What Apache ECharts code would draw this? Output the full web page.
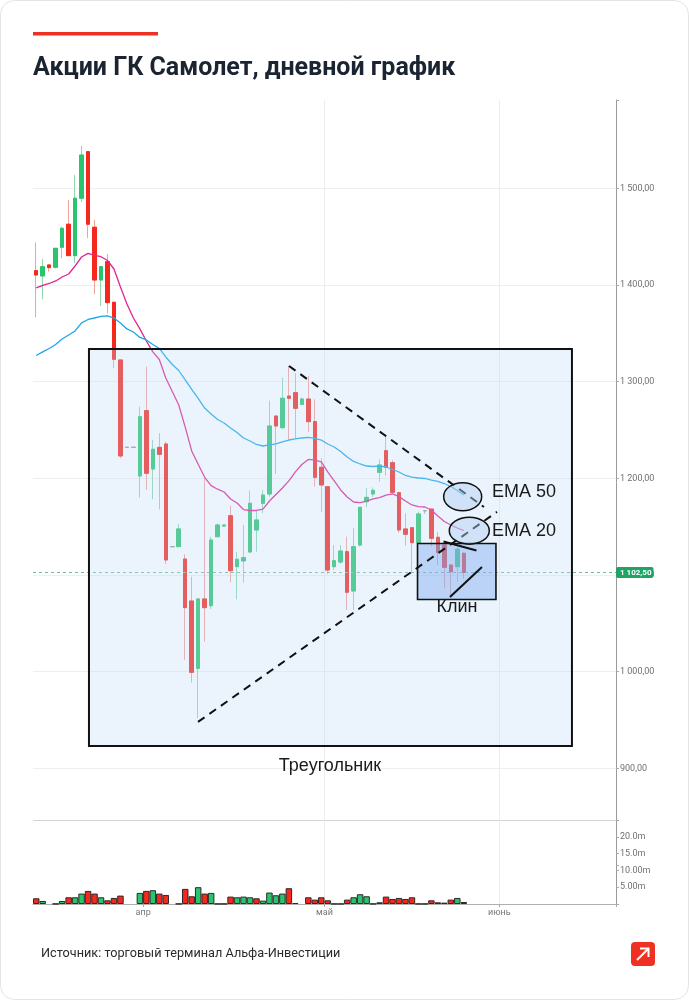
<!DOCTYPE html>
<html><head><meta charset="utf-8">
<script src="https://cdn.jsdelivr.net/npm/echarts@6/dist/echarts.min.js"></script>
<style>html,body{margin:0;padding:0;background:#fff}#c{width:689px;height:1000px}</style>
</head><body><div id="c"></div>
<script>
// ---- slots (daily sessions) and month ticks ----
const slotCount = 90;
const categories = Array.from({length: slotCount}, (_, i) => 'd' + i);
const monthTicks = {17: 'апр', 45: 'май', 72: 'июнь'};

// ---- daily candles ----
const open  = [1414.8,1409.3,1420.7,1418.3,1439,1462.8,1430.3,1489.7,1537.9,1459.7,1405.1,1424.1,1382.1,1322.4,1232,1232,1202.4,1270,1209.6,1232,1235.5,1129.3,1129.3,1116.5,1073.1,1003.4,1075.2,1068.2,1139.6,1150.6,1161.3,1108.6,1114.5,1123.8,1146.5,1174.1,1183.8,1264.4,1252.4,1285.1,1288.6,1276.5,1282,1258.6,1211.4,1191.3,1108.6,1113.4,1124.1,1083.4,1131,1175.8,1183.8,1206.2,1228.6,1216.1,1185.1,1147.6,1148.9,1133.4,1166.5,1168.2,1139,1131,1110.3,1108.6,1122.4];
const close = [1410.3,1418.9,1417.9,1437.9,1458.6,1430.3,1489.7,1534.4,1462.8,1405.1,1418.9,1381.7,1323.1,1223.1,1232,1232,1263.7,1205.2,1230,1224.8,1115.5,1129.3,1147.6,1066.2,999.3,1075.2,1066.2,1136.2,1151.7,1151.7,1104.4,1116.2,1117.9,1174.1,1156.9,1182.7,1254.1,1254.1,1282.8,1282.8,1272.4,1282,1258.6,1201,1193.1,1105.1,1114.8,1124.8,1082.1,1129.3,1170,1180.3,1187.6,1213.8,1211.4,1185.5,1146.5,1142.1,1133.4,1163.1,1166.5,1137.9,1123.1,1107.9,1103.4,1126.6,1102.5];
const low   = [1366.6,1385.2,1413.7,1417,1427.6,1430.3,1422.4,1486.1,1448.3,1390.4,1378.2,1370.7,1313.8,1220.7,1232,1232,1180,1187.9,1178.3,1167.9,1111.4,1129.3,1129.3,1012.1,988.6,952,1031,1064.8,1139,1150.6,1092.4,1074.8,1092,1122.4,1124.1,1163.8,1181,1204.5,1250.7,1239.6,1241.4,1275.5,1248.2,1191.3,1164.9,1101,1105.1,1111.7,1063.8,1063.8,1129.3,1170,1180.8,1196.5,1202.7,1184.5,1143.7,1130.3,1101.7,1132.4,1163.5,1129.3,1110.3,1086.2,1077.5,1093,1096];
const high  = [1444,1426.9,1420.7,1437.9,1460.3,1487.9,1513.8,1543.8,1537.9,1467.2,1418.9,1432,1382.1,1322.4,1232,1232,1274.1,1315.5,1239.6,1246.6,1237.9,1129.3,1152.7,1121.4,1098.2,1075.2,1200,1139.6,1153.4,1151.7,1171.7,1124.1,1151.7,1187.2,1167.2,1187.9,1280.3,1264.4,1304.1,1316.2,1308.6,1283.5,1305.8,1281.7,1220.7,1191.3,1131,1131,1139.6,1148.3,1170,1189.7,1190.5,1219.7,1245.8,1218.7,1185.1,1163.8,1148.9,1165.4,1166.5,1168.2,1144.8,1131,1110.3,1129.3,1124];

// ---- moving averages ----
const ema20 = [1396.9,1399.5,1401.5,1404.1,1408.2,1411.3,1419.6,1428.9,1432.6,1430.5,1429.2,1425.3,1416.5,1397.9,1380.3,1365.8,1354.5,1342,1330.7,1322.9,1303.8,1289.7,1275.8,1252.9,1228.3,1214.5,1201,1192.4,1188.7,1185.8,1178.6,1174.5,1167.7,1166.7,1166.7,1168.2,1176.5,1183.3,1190,1197.3,1206.6,1214.3,1219.5,1218.9,1216.9,1206.6,1197.3,1187.9,1180.7,1175.5,1174.8,1176.5,1178.6,1180.1,1182.7,1183.8,1181,1176.5,1172.4,1170.8,1170.3,1167.2,1160.9,1155.3,1151.7,1148.6,1146];
const ema50 = [1327,1330.7,1334.3,1338.4,1344.1,1348.2,1352.4,1360.7,1364.3,1365.8,1367.4,1367.9,1365.8,1360.7,1354.5,1351.3,1345.7,1343.1,1338.4,1334.3,1325.5,1317.7,1311.5,1301.7,1291.9,1282.6,1272.7,1266.5,1260.8,1257.2,1252,1247.4,1241.7,1238.6,1235,1233.4,1234.5,1235.5,1237.6,1239.6,1240.7,1241.7,1242.4,1241.2,1239.6,1235.5,1232.4,1227.7,1222,1217.4,1214.8,1212.7,1212.2,1212.7,1211.7,1209.1,1206.5,1202.9,1201.3,1200.3,1199.8,1198.2,1196.7,1194.6,1191.5,1187.4,1182.7];

// ---- volume, millions ----
const volume = [1.7,0.9,null,0.05,0.9,2.0,2.0,3.1,3.9,3.1,2.0,1.1,1.8,2.5,null,null,3.3,3.9,4.1,3.1,2.7,null,0.05,4.5,2.3,5.0,3.1,3.3,0.05,0.05,2.2,2.0,2.2,2.0,1.7,1.0,3.4,2.6,3.1,4.7,0.3,null,2.0,1.3,2.0,1.1,0.05,0.05,1.3,2.0,2.9,2.3,0.05,0.5,2.2,1.5,1.8,1.5,2.0,0.05,0.05,1.1,0.5,0.4,1.3,1.8,0.6];
const volDir = ['d','u','n','n','u','d','u','u','d','d','u','d','d','d','n','n','u','d','u','d','d','n','n','d','d','u','d','u','n','n','d','u','u','u','d','u','u','u','u','d','d','n','d','d','d','d','n','n','d','u','u','u','n','u','d','d','d','d','d','n','n','d','d','d','d','u','d'];

// ---- price / volume tick labels ----
const priceTicks = [900, 1000, 1100, 1200, 1300, 1400, 1500];
const volTickLabels = {5: '5.00m', 10: '10.00m', 15: '15.0m', 20: '20.0m'};

// ---- annotations, in data coordinates [slot position, price] ----
const triangleBox = [[8.64, 1333.8], [83.2, 923.2]];
const wedgeBox = [[59.36, 1132.6], [71.47, 1074.6]];
const triUpper = [[39.52, 1316.2], [69.62, 1170.3]];
const triLower = [[25.47, 948], [71.63, 1165.3]];
const wedgeUpper = [[63.37, 1134.6], [68.46, 1125.3]];
const wedgeLower = [[64.37, 1077.2], [69.31, 1108.3]];
const ellipses = [{c: [66.33, 1181], rx: 19, ry: 14}, {c: [67.35, 1145.8], rx: 20, ry: 13.5}];
const texts = [
  {t: 'EMA 50', p: [70.86, 1186], align: 'left'},
  {t: 'EMA 20', p: [70.86, 1145.5], align: 'left'},
  {t: 'Клин', p: [65.45, 1067], align: 'center'},
  {t: 'Треугольник', p: [45.85, 902.4], align: 'center'}
];

const RED = '#F5281E', GREEN = '#2BC46E';
const RED_W = '#F2A29C', GREEN_W = '#8FD8AE';
const lastPrice = close[close.length - 1];

function fmtPrice(v) {
  const s = v.toFixed(2).split('.');
  return s[0].replace(/\B(?=(\d{3})+(?!\d))/g, ' ') + ',' + s[1];
}
const isMonth = (idx) => monthTicks[idx] !== undefined;
const T = 'rgba(0,0,0,0)', G = '#ececec';

const chart = echarts.init(document.getElementById('c'), null, {renderer: 'canvas'});

const candleWick = open.map((o, i) => [o, close[i], low[i], high[i]]);
const candleBody = open.map((o, i) => [o, close[i], Math.min(o, close[i]), Math.max(o, close[i])]);
const volData = volume.map((v, i) => ({
  value: v,
  itemStyle: {color: volDir[i] === 'u' ? GREEN : volDir[i] === 'd' ? RED : '#333'}
}));

function renderAnno(params, api) {
  const P = (pt) => api.coord(pt);
  const b0 = P(triangleBox[0]), b1 = P(triangleBox[1]);
  const w0 = P(wedgeBox[0]), w1 = P(wedgeBox[1]);
  const line = (seg, dash) => {
    const a = P(seg[0]), b = P(seg[1]);
    return {type: 'line', shape: {x1: a[0], y1: a[1], x2: b[0], y2: b[1]},
      style: {stroke: '#111', lineWidth: 2, lineDash: dash ? [8, 6] : null}};
  };
  const children = [
    {type: 'rect', shape: {x: b0[0], y: b0[1], width: b1[0] - b0[0], height: b1[1] - b0[1]},
      style: {fill: 'rgba(190,218,250,0.3)', stroke: '#111', lineWidth: 2}},
    {type: 'rect', shape: {x: w0[0], y: w0[1], width: w1[0] - w0[0], height: w1[1] - w0[1]},
      style: {fill: 'rgba(120,165,235,0.42)', stroke: '#111', lineWidth: 1.6}},
    line(triUpper, true), line(triLower, true),
    line(wedgeUpper, false), line(wedgeLower, false)
  ];
  ellipses.forEach(e => {
    const c = P(e.c);
    children.push({type: 'ellipse', shape: {cx: c[0], cy: c[1], rx: e.rx, ry: e.ry},
      style: {fill: 'rgba(175,205,240,0.45)', stroke: '#111', lineWidth: 1.5}});
  });
  texts.forEach(t => {
    const c = P(t.p);
    children.push({type: 'text', x: c[0], y: c[1],
      style: {text: t.t, fill: '#1a1a1a', font: '18px "Liberation Sans", Arial, sans-serif',
        align: t.align, verticalAlign: 'middle'}});
  });
  return {type: 'group', children};
}

const option = {
  animation: false,
  backgroundColor: '#fff',
  textStyle: {fontFamily: 'Roboto, "Noto Sans", sans-serif'},
  grid: [
    {left: 33, right: 73, top: 100, height: 765},
    {left: 33, right: 73, top: 820, height: 84}
  ],
  xAxis: [
    {type: 'category', gridIndex: 0, data: categories, boundaryGap: true,
      axisLine: {show: false}, axisTick: {show: false}, axisLabel: {show: false},
      splitLine: {show: true, interval: isMonth, lineStyle: {color: [T, G, G, G, T], width: 1}}},
    {type: 'category', gridIndex: 1, data: categories, boundaryGap: true,
      axisLine: {show: true, onZero: false, lineStyle: {color: '#b0b0b0'}},
      axisTick: {show: true, interval: isMonth, length: 3, lineStyle: {color: '#aaa'}},
      axisLabel: {show: true, interval: isMonth, formatter: (v, idx) => monthTicks[idx] || '',
        fontSize: 9, color: '#777', margin: 4, padding: [0, 6.5, 0, 0]},
      splitLine: {show: true, interval: isMonth, lineStyle: {color: [T, G, G, G, T], width: 1}}},
    {type: 'value', gridIndex: 0, min: 0, max: slotCount, show: false}
  ],
  yAxis: [
    {type: 'value', gridIndex: 0, position: 'right', min: 800, max: 1591.3, interval: 100,
      axisLine: {show: true, onZero: false, lineStyle: {color: '#9a9a9a'}},
      axisTick: {show: true, length: 3, lineStyle: {color: '#aaa'}},
      axisLabel: {fontSize: 9, color: '#707070', margin: 4,
        formatter: v => priceTicks.includes(Math.round(v * 100) / 100) ? fmtPrice(v) : ''},
      splitLine: {show: true, lineStyle: {width: 1,
        color: [T, '#efefef', '#efefef', '#efefef', '#efefef', '#efefef', '#efefef', '#efefef', T]}}},
    {type: 'value', gridIndex: 1, position: 'right', min: 0, max: 25, interval: 5,
      axisLine: {show: true, onZero: false, lineStyle: {color: '#9a9a9a'}},
      axisTick: {show: true, length: 3, lineStyle: {color: '#aaa'}},
      axisLabel: {fontSize: 9, color: '#707070', margin: 4, formatter: v => volTickLabels[v] || ''},
      splitLine: {show: true, lineStyle: {width: 1, color: [T, T, T, T, T, '#d2d2d2']}}}
  ],
  series: [
    {name: 'wick', type: 'candlestick', xAxisIndex: 0, yAxisIndex: 0, data: candleWick, barWidth: 4, z: 2,
      itemStyle: {color: GREEN_W, color0: RED_W, borderColor: GREEN_W, borderColor0: RED_W,
        borderColorDoji: '#aaa', borderWidth: 1}},
    {name: 'body', type: 'candlestick', xAxisIndex: 0, yAxisIndex: 0, data: candleBody, barWidth: 4, z: 3,
      itemStyle: {color: GREEN, color0: RED, borderColor: GREEN, borderColor0: RED,
        borderColorDoji: '#9a9a9a', borderWidth: 1},
      markLine: {silent: true, symbol: 'none', animation: false,
        lineStyle: {color: '#6fbf9d', type: [3, 3], width: 1},
        label: {position: 'end', distance: 0, formatter: () => fmtPrice(lastPrice),
          backgroundColor: '#1fa463', color: '#fff', fontSize: 8, fontWeight: 'bold',
          padding: [2, 2, 1, 4], borderRadius: 2},
        data: [{yAxis: lastPrice}]}},
    {name: 'EMA 20', type: 'line', xAxisIndex: 0, yAxisIndex: 0, data: ema20, symbol: 'none', z: 4,
      lineStyle: {color: '#E2248F', width: 1.3}},
    {name: 'EMA 50', type: 'line', xAxisIndex: 0, yAxisIndex: 0, data: ema50, symbol: 'none', z: 4,
      lineStyle: {color: '#1AA6E6', width: 1.3}},
    {name: 'anno', type: 'custom', xAxisIndex: 2, yAxisIndex: 0, data: [[0, 0]], z: 10, clip: false,
      silent: true, renderItem: renderAnno},
    {name: 'volume', type: 'bar', xAxisIndex: 1, yAxisIndex: 1, data: volData, barCategoryGap: '0%',
      itemStyle: {borderColor: '#2a2a2a', borderWidth: 1}}
  ],
  graphic: [
    {type: 'rect', shape: {x: 0.5, y: 0.5, width: 688, height: 999, r: 14},
      style: {fill: 'none', stroke: '#e4e4e4', lineWidth: 1}, z: 100},
    {type: 'rect', shape: {x: 33, y: 32, width: 125, height: 3.5}, style: {fill: '#EF3124'}},
    {type: 'text', x: 33, y: 56, style: {text: 'Акции ГК Самолет, дневной график',
      font: '700 25px Roboto, "Noto Sans", sans-serif', fill: '#1b2431', verticalAlign: 'top'}},
    {type: 'text', x: 41, y: 954, style: {text: 'Источник: торговый терминал Альфа-Инвестиции',
      font: '12.7px Roboto, "Noto Sans", sans-serif', fill: '#2b2b2b', verticalAlign: 'middle'}},
    {type: 'group', x: 631, y: 942, children: [
      {type: 'rect', shape: {x: 0, y: 0, width: 24, height: 24, r: 4}, style: {fill: '#EF3124'}},
      {type: 'polyline', shape: {points: [[6, 18], [17, 7]]}, style: {stroke: '#fff', lineWidth: 2, fill: null}},
      {type: 'polyline', shape: {points: [[9, 6.5], [17.5, 6.5], [17.5, 15]]}, style: {stroke: '#fff', lineWidth: 2, fill: null}}
    ]}
  ]
};
chart.setOption(option);
</script></body></html>
